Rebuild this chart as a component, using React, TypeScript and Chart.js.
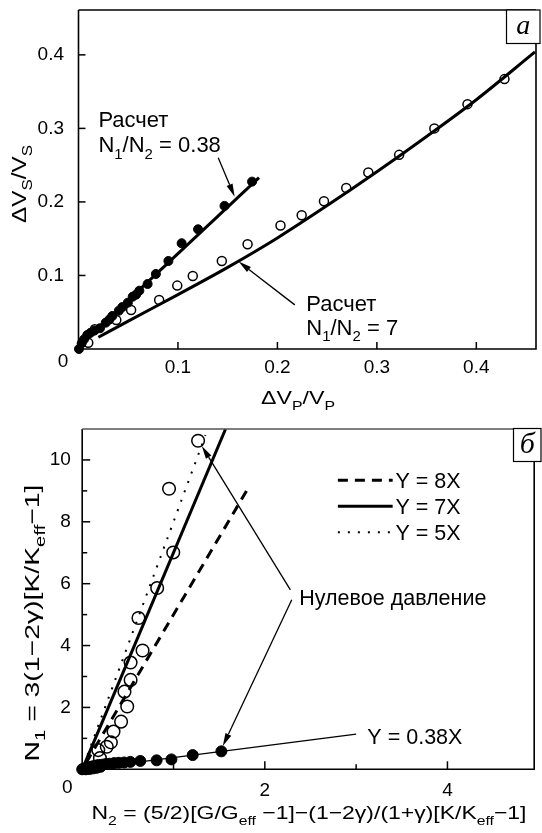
import React, { useEffect, useRef } from "react";
import { Chart, registerables } from "chart.js";
Chart.register(...registerables);

const SANS = '"Liberation Sans", Arial, Helvetica, sans-serif';
const SERIF = '"Liberation Serif", "Times New Roman", serif';

// ---------------- Panel "а" data ----------------
const aXTicks = [0.1, 0.2, 0.3, 0.4];
const aXTickLabels = ["0.1", "0.2", "0.3", "0.4"];
const aYTicks = [0.1, 0.2, 0.3, 0.4];
const aYTickLabels = ["0.1", "0.2", "0.3", "0.4"];

const aFilledX = [0.0005, 0.0032, 0.0055, 0.0088, 0.012, 0.016, 0.0216, 0.0274, 0.031, 0.034, 0.0406, 0.044, 0.0496, 0.0545, 0.058, 0.0612, 0.0695, 0.0778, 0.0904, 0.1037, 0.1202, 0.1468, 0.1745];
const aFilledY = [0.0, 0.0078, 0.013, 0.019, 0.022, 0.025, 0.0282, 0.0358, 0.04, 0.0449, 0.0521, 0.057, 0.063, 0.0712, 0.074, 0.0793, 0.0884, 0.102, 0.1197, 0.1438, 0.1628, 0.1946, 0.2276];

const aOpenX = [0.0098, 0.0164, 0.038, 0.0529, 0.0811, 0.0993, 0.1149, 0.1441, 0.17, 0.2031, 0.2244, 0.2468, 0.2692, 0.2914, 0.3224, 0.3578, 0.3911, 0.4283];
const aOpenY = [0.0086, 0.0268, 0.0395, 0.053, 0.0667, 0.0862, 0.0993, 0.1197, 0.1424, 0.168, 0.182, 0.201, 0.219, 0.24, 0.264, 0.3, 0.333, 0.367];

// "Расчет N1/N2 = 0.38"
const aCalcLowX = [0.0, 0.1815];
const aCalcLowY = [0.003, 0.233];
// "Расчет N1/N2 = 7"
const aCalcHighX = [0.02, 0.05, 0.1, 0.15, 0.2, 0.25, 0.3, 0.35, 0.4, 0.459];
const aCalcHighY = [0.016, 0.038, 0.074, 0.111, 0.151, 0.195, 0.241, 0.289, 0.339, 0.404];

const aNotes = [
  { text: "Расчет", x: 0.02, y: 0.312 },
  { text: "N_1/N_2 = 0.38", x: 0.02, y: 0.278 },
  { text: "Расчет", x: 0.229, y: 0.063 },
  { text: "N_1/N_2 = 7", x: 0.229, y: 0.03 },
];
const aArrows = [
  { x0: 0.1405, y0: 0.26, x1: 0.157, y1: 0.207 },
  { x0: 0.2175, y0: 0.06, x1: 0.161, y1: 0.119 },
];

// ---------------- Panel "б" data ----------------
const bXTicks = [2, 4];
const bXTickLabels = ["2", "4"];
const bXMinor = [1, 3];
const bYTicks = [2, 4, 6, 8, 10];
const bYTickLabels = ["2", "4", "6", "8", "10"];
const bYMinor = [1, 3, 5, 7, 9];

const bOpenX = [1.269, 0.951, 0.997, 0.821, 0.616, 0.661, 0.53, 0.53, 0.463, 0.493, 0.426, 0.343, 0.314, 0.269, 0.176, 0.194];
const bOpenY = [10.62, 9.07, 7.01, 5.86, 4.89, 3.84, 3.45, 2.89, 2.51, 2.03, 1.54, 1.22, 0.87, 0.73, 0.62, 0.36];

const bFilledX = [1.524, 1.21, 0.977, 0.815, 0.636, 0.527, 0.46, 0.4, 0.35, 0.3, 0.26, 0.22, 0.18, 0.15, 0.12, 0.09, 0.07, 0.05, 0.035, 0.02, 0.01, 0.0, 0.04, 0.08, 0.12, 0.16, 0.2];
const bFilledY = [0.58, 0.46, 0.32, 0.29, 0.27, 0.24, 0.22, 0.21, 0.2, 0.18, 0.17, 0.15, 0.14, 0.12, 0.1, 0.08, 0.06, 0.04, 0.03, 0.02, 0.01, 0.0, 0.0, 0.01, 0.03, 0.05, 0.08];

// line drawn dashed (legend "Y = 8X")
const bDashedX = [0.04, 1.8];
const bDashedY = [0.2, 9.0];
// line drawn solid (legend "Y = 7X")
const bSolidX = [0.03, 1.57];
const bSolidY = [0.2, 11.0];
// line drawn dotted (legend "Y = 5X")
const bDottedX = [0.02, 1.35];
const bDottedY = [0.16, 10.8];
// thin fit "Y = 0.38X"
const bFitX = [0.1, 3.0];
const bFitY = [0.04, 1.14];

const bLegend = [
  { label: "Y = 8X", dash: [10, 7], width: 3, x0: 2.8, x1: 3.4, tx: 3.43, y: 9.34 },
  { label: "Y = 7X", dash: [], width: 3, x0: 2.8, x1: 3.4, tx: 3.43, y: 8.5 },
  { label: "Y = 5X", dash: [2, 8], width: 2, x0: 2.8, x1: 3.4, tx: 3.43, y: 7.66 },
];
const bNotes = [
  { text: "Нулевое давление", x: 2.377, y: 5.55 },
  { text: "Y = 0.38X", x: 3.123, y: 1.055 },
];
const bArrows = [
  { x0: 2.28, y0: 5.8, x1: 1.31, y1: 10.45 },
  { x0: 2.295, y0: 5.48, x1: 1.54, y1: 0.75 },
];

// ---------------- helpers ----------------
const zip = (xs: number[], ys: number[]) => xs.map((x, i) => ({ x, y: ys[i] }));

function parseRich(s: string) {
  const out: { t: string; sub: boolean }[] = [];
  let buf = "";
  for (let i = 0; i < s.length; i++) {
    const c = s[i];
    if (c === "_") {
      if (buf) { out.push({ t: buf, sub: false }); buf = ""; }
      if (s[i + 1] === "{") {
        const j = s.indexOf("}", i + 2);
        out.push({ t: s.slice(i + 2, j), sub: true });
        i = j;
      } else {
        out.push({ t: s[i + 1], sub: true });
        i++;
      }
    } else buf += c;
  }
  if (buf) out.push({ t: buf, sub: false });
  return out;
}

function drawRich(ctx: CanvasRenderingContext2D, s: string, x: number, y: number, size: number, align: "left" | "center" | "right", rotate = false, length = 0) {
  const segs = parseRich(s);
  const subSize = Math.round(size * 0.7);
  const mainFont = `${size}px ${SANS}`;
  const subFont = `${subSize}px ${SANS}`;
  let w = 0;
  for (const sg of segs) { ctx.font = sg.sub ? subFont : mainFont; w += ctx.measureText(sg.t).width; }
  ctx.save();
  ctx.translate(x, y);
  if (rotate) ctx.rotate(-Math.PI / 2);
  if (length > 0) ctx.scale(length / w, 1);
  ctx.fillStyle = "#000";
  ctx.textAlign = "left";
  ctx.textBaseline = "alphabetic";
  let cx = align === "center" ? -w / 2 : align === "right" ? -w : 0;
  const base = size * 0.36;
  for (const sg of segs) {
    ctx.font = sg.sub ? subFont : mainFont;
    ctx.fillText(sg.t, cx, base + (sg.sub ? size * 0.3 : 0));
    cx += ctx.measureText(sg.t).width;
  }
  ctx.restore();
}

function drawArrow(ctx: CanvasRenderingContext2D, x0: number, y0: number, x1: number, y1: number) {
  const head = 13, half = 3.2;
  const ang = Math.atan2(y1 - y0, x1 - x0);
  const bx = x1 - head * Math.cos(ang), by = y1 - head * Math.sin(ang);
  ctx.save();
  ctx.strokeStyle = "#000";
  ctx.fillStyle = "#000";
  ctx.lineWidth = 1.3;
  ctx.beginPath(); ctx.moveTo(x0, y0); ctx.lineTo(bx, by); ctx.stroke();
  ctx.beginPath();
  ctx.moveTo(x1, y1);
  ctx.lineTo(bx + half * Math.sin(ang), by - half * Math.cos(ang));
  ctx.lineTo(bx - half * Math.sin(ang), by + half * Math.cos(ang));
  ctx.closePath(); ctx.fill();
  ctx.restore();
}

type Title = { text: string; x: number; y: number; size: number; length: number };
type Panel = {
  xTicks: number[]; xMinor: number[]; yTicks: number[]; yMinor: number[];
  tickLen: number; minorLen: number; frameTop: string;
  zero: { x: number; y: number };
  xTitle: Title;
  yTitle: Title;
  box: { letter: string; x0: number; y0: number; x1: number; y1: number; size: number };
  notes: { text: string; x: number; y: number }[];
  arrows: { x0: number; y0: number; x1: number; y1: number }[];
  legend: { label: string; dash: number[]; width: number; x0: number; x1: number; tx: number; y: number }[];
  noteSize: number;
};

function paperPlugin(p: Panel) {
  return {
    id: "paper",
    afterDraw(chart: any) {
      const { ctx, chartArea: a } = chart;
      const xs = chart.scales.x, ys = chart.scales.y;
      ctx.save();
      ctx.strokeStyle = "#000";
      ctx.lineWidth = 1.5;
      const tickX = (v: number, len: number) => { const px = xs.getPixelForValue(v); ctx.beginPath(); ctx.moveTo(px, a.bottom); ctx.lineTo(px, a.bottom - len); ctx.stroke(); };
      const tickY = (v: number, len: number) => { const py = ys.getPixelForValue(v); ctx.beginPath(); ctx.moveTo(a.left, py); ctx.lineTo(a.left + len, py); ctx.stroke(); };
      p.xTicks.forEach((v) => tickX(v, p.tickLen));
      p.xMinor.forEach((v) => tickX(v, p.minorLen));
      p.yTicks.forEach((v) => tickY(v, p.tickLen));
      p.yMinor.forEach((v) => tickY(v, p.minorLen));
      ctx.lineWidth = 1.6;
      ctx.strokeStyle = "#000";
      ctx.beginPath(); ctx.moveTo(a.left, a.top); ctx.lineTo(a.left, a.bottom); ctx.lineTo(a.right, a.bottom); ctx.lineTo(a.right, a.top); ctx.stroke();
      ctx.strokeStyle = p.frameTop;
      ctx.beginPath(); ctx.moveTo(a.left, a.top); ctx.lineTo(a.right, a.top); ctx.stroke();
      ctx.fillStyle = "#000";
      ctx.font = `19px ${SANS}`;
      ctx.textAlign = "center";
      ctx.textBaseline = "middle";
      ctx.fillText("0", p.zero.x, p.zero.y);
      drawRich(ctx, p.xTitle.text, p.xTitle.x, p.xTitle.y, p.xTitle.size, "center", false, p.xTitle.length);
      drawRich(ctx, p.yTitle.text, p.yTitle.x, p.yTitle.y, p.yTitle.size, "center", true, p.yTitle.length);
      const b = p.box;
      ctx.fillStyle = "#fff";
      ctx.fillRect(b.x0, b.y0, b.x1 - b.x0, b.y1 - b.y0);
      ctx.strokeStyle = "#000";
      ctx.lineWidth = 1.2;
      ctx.strokeRect(b.x0, b.y0, b.x1 - b.x0, b.y1 - b.y0);
      ctx.fillStyle = "#000";
      ctx.font = `italic ${b.size}px ${SERIF}`;
      ctx.textAlign = "center";
      ctx.textBaseline = "middle";
      ctx.fillText(b.letter, (b.x0 + b.x1) / 2, (b.y0 + b.y1) / 2);
      p.notes.forEach((n) => drawRich(ctx, n.text, xs.getPixelForValue(n.x), ys.getPixelForValue(n.y), p.noteSize, "left"));
      p.arrows.forEach((r) => drawArrow(ctx, xs.getPixelForValue(r.x0), ys.getPixelForValue(r.y0), xs.getPixelForValue(r.x1), ys.getPixelForValue(r.y1)));
      p.legend.forEach((l) => {
        const py = ys.getPixelForValue(l.y);
        ctx.save();
        ctx.strokeStyle = "#000";
        ctx.lineWidth = l.width;
        ctx.setLineDash(l.dash);
        ctx.beginPath(); ctx.moveTo(xs.getPixelForValue(l.x0), py); ctx.lineTo(xs.getPixelForValue(l.x1), py); ctx.stroke();
        ctx.restore();
        drawRich(ctx, l.label, xs.getPixelForValue(l.tx), py, p.noteSize, "left");
      });
      ctx.restore();
    },
  };
}

function axis(min: number, max: number, ticks: number[], labels: string[], pad: number, fit: (s: any) => void) {
  return {
    type: "linear" as const,
    min, max,
    bounds: "data" as const,
    grid: { display: false, drawTicks: false },
    border: { display: false },
    ticks: {
      color: "#000",
      font: { family: SANS, size: 19 },
      padding: pad,
      includeBounds: false,
      callback: (_v: any, i: number) => labels[i],
    },
    afterBuildTicks: (s: any) => { s.ticks = ticks.map((v) => ({ value: v })); s.min = min; s.max = max; },
    afterFit: (s: any) => {
      fit(s);
      s.paddingTop = 0; s.paddingBottom = 0; s.paddingLeft = 0; s.paddingRight = 0;
    },
  };
}

const lineDs = (xs: number[], ys: number[], width: number, dash: number[] = [], smooth = false) => ({
  type: "line" as const,
  data: zip(xs, ys),
  borderColor: "#000",
  borderWidth: width,
  borderDash: dash,
  pointRadius: 0,
  fill: false,
  cubicInterpolationMode: smooth ? ("monotone" as const) : ("default" as const),
  tension: 0,
});

const pointDs = (xs: number[], ys: number[], r: number, filled: boolean) => ({
  type: "scatter" as const,
  data: zip(xs, ys),
  pointRadius: r,
  pointBorderWidth: filled ? 1 : 1.5,
  pointBorderColor: "#000",
  pointBackgroundColor: filled ? "#000" : "rgba(0,0,0,0)",
  showLine: false,
  clip: false as any,
});

export default function App() {
  const r1 = useRef<HTMLCanvasElement>(null);
  const r2 = useRef<HTMLCanvasElement>(null);

  useEffect(() => {
    const panelA: Panel = {
      xTicks: aXTicks, xMinor: [], yTicks: aYTicks, yMinor: [],
      tickLen: 7, minorLen: 4, frameTop: "#000",
      zero: { x: 63, y: 361.5 },
      xTitle: { text: "ΔV_P/V_P", x: 298, y: 397, size: 19, length: 74 },
      yTitle: { text: "ΔV_S/V_S", x: 19, y: 184, size: 20, length: 78 },
      box: { letter: "а", x0: 506.5, y0: 10, x1: 540, y1: 43.5, size: 28 },
      notes: aNotes, arrows: aArrows, legend: [], noteSize: 22,
    };
    const c1 = new Chart(r1.current!, {
      type: "scatter",
      data: {
        datasets: [
          lineDs(aCalcHighX, aCalcHighY, 3, [], true),
          lineDs(aCalcLowX, aCalcLowY, 3),
          pointDs(aOpenX, aOpenY, 4.5, false),
          pointDs(aFilledX, aFilledY, 4.5, true),
        ] as any,
      },
      options: {
        animation: false,
        responsive: false,
        layout: { padding: { left: 0, right: 2, top: 10, bottom: 0 } },
        plugins: { legend: { display: false }, tooltip: { enabled: false } },
        scales: {
          x: axis(0, 0.46, aXTicks, aXTickLabels, 7.5, (s: any) => { s.height = 61; }),
          y: axis(0, 0.461, aYTicks, aYTickLabels, 14.5, (s: any) => { s.width = 78.5; }),
        } as any,
      },
      plugins: [paperPlugin(panelA)],
    });

    const panelB: Panel = {
      xTicks: bXTicks, xMinor: bXMinor, yTicks: bYTicks, yMinor: bYMinor,
      tickLen: 8, minorLen: 5, frameTop: "#555",
      zero: { x: 67.4, y: 377.5 },
      xTitle: { text: "N_2 = (5/2)[G/G_{eff} −1]−(1−2γ)/(1+γ)[K/K_{eff}−1]", x: 309, y: 402, size: 19, length: 435 },
      yTitle: { text: "N_1 = 3(1−2γ)[K/K_{eff}−1]", x: 31, y: 213, size: 21, length: 277 },
      box: { letter: "б", x0: 513.5, y0: 18.5, x1: 541, y1: 51.5, size: 30 },
      notes: bNotes, arrows: bArrows, legend: bLegend, noteSize: 21.5,
    };
    const c2 = new Chart(r2.current!, {
      type: "scatter",
      data: {
        datasets: [
          lineDs(bDashedX, bDashedY, 3, [10, 7]),
          lineDs(bSolidX, bSolidY, 3),
          lineDs(bDottedX, bDottedY, 2, [2, 8]),
          lineDs(bFitX, bFitY, 1.3),
          pointDs(bOpenX, bOpenY, 6.3, false),
          pointDs(bFilledX, bFilledY, 5.5, true),
        ] as any,
      },
      options: {
        animation: false,
        responsive: false,
        layout: { padding: { left: 0, right: 2, top: 19, bottom: 0 } },
        plugins: { legend: { display: false }, tooltip: { enabled: false } },
        scales: {
          x: axis(0, 4.95, bXTicks, bXTickLabels, 10, (s: any) => { s.height = 63.7; }),
          y: axis(0, 11, bYTicks, bYTickLabels, 11.4, (s: any) => { s.width = 82.2; }),
        } as any,
      },
      plugins: [paperPlugin(panelB)],
    });

    return () => { c1.destroy(); c2.destroy(); };
  }, []);

  return (
    <div style={{ position: "absolute", left: 0, top: 0, width: 542, height: 833, background: "#fff" }}>
      <canvas ref={r1} width={542} height={410} style={{ position: "absolute", left: 0, top: 0 }} />
      <canvas ref={r2} width={542} height={423} style={{ position: "absolute", left: 0, top: 410 }} />
    </div>
  );
}
